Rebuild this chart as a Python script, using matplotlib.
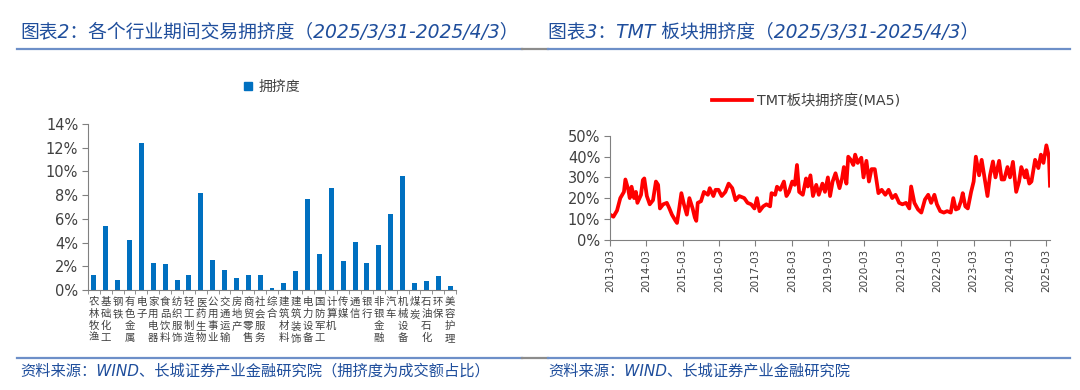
import matplotlib
matplotlib.use('Agg')
import matplotlib.pyplot as plt
from matplotlib.lines import Line2D
from matplotlib.patches import Patch

plt.rcParams['font.family'] = ['DejaVu Sans', 'Noto Sans CJK SC']
plt.rcParams['axes.unicode_minus'] = False

# ---- data: industry crowding (left) ----
industries = ['农林牧渔', '基础化工', '钢铁', '有色金属', '电子', '家用电器', '食品饮料',
              '纺织服饰', '轻工制造', '医药生物', '公用事业', '交通运输', '房地产', '商贸零售',
              '社会服务', '综合', '建筑材料', '建筑装饰', '电力设备', '国防军工', '计算机',
              '传媒', '通信', '银行', '非银金融', '汽车', '机械设备', '煤炭', '石油石化',
              '环保', '美容护理']
crowding = [1.24, 5.37, 0.84, 4.21, 12.39, 2.25, 2.16, 0.84, 1.24, 8.2, 2.53, 1.69,
            1.04, 1.24, 1.24, 0.2, 0.59, 1.63, 7.7, 3.0, 8.6, 2.47, 4.02, 2.25, 3.79,
            6.38, 9.63, 0.56, 0.76, 1.18, 0.31]
left_yticks = [0, 2, 4, 6, 8, 10, 12, 14]

# ---- data: TMT crowding MA5 (right), decimal year / percent ----
tmt_t = [2013.17, 2013.26, 2013.36, 2013.45, 2013.55, 2013.59, 2013.67, 2013.71, 2013.76,
         2013.83, 2013.88, 2013.92, 2014.02, 2014.07, 2014.11, 2014.18, 2014.26, 2014.35,
         2014.43, 2014.49, 2014.54, 2014.63, 2014.73, 2014.80, 2014.87, 2014.97, 2015.01,
         2015.06, 2015.13, 2015.20, 2015.28, 2015.35, 2015.44, 2015.50, 2015.54, 2015.58,
         2015.67, 2015.75, 2015.86, 2015.91, 2016.01, 2016.07, 2016.15, 2016.24, 2016.34,
         2016.43, 2016.53, 2016.62, 2016.72, 2016.86, 2016.95, 2017.05, 2017.14, 2017.21,
         2017.28, 2017.38, 2017.47, 2017.57, 2017.61, 2017.71, 2017.76, 2017.85, 2017.95,
         2018.02, 2018.09, 2018.18, 2018.25, 2018.31, 2018.37, 2018.47, 2018.56, 2018.61,
         2018.68, 2018.75, 2018.84, 2018.91, 2019.01, 2019.08, 2019.16, 2019.22, 2019.29,
         2019.37, 2019.48, 2019.55, 2019.60, 2019.67, 2019.72, 2019.79, 2019.86, 2019.91,
         2019.98, 2020.08, 2020.14, 2020.22, 2020.29, 2020.36, 2020.45, 2020.55, 2020.64,
         2020.74, 2020.83, 2020.93, 2021.02, 2021.12, 2021.21, 2021.31, 2021.40, 2021.45,
         2021.54, 2021.64, 2021.73, 2021.83, 2021.92, 2022.00, 2022.09, 2022.16, 2022.25,
         2022.35, 2022.44, 2022.54, 2022.61, 2022.68, 2022.75, 2022.82, 2022.87, 2022.94,
         2023.01, 2023.10, 2023.17, 2023.23, 2023.32, 2023.39, 2023.48, 2023.55, 2023.62,
         2023.70, 2023.77, 2023.87, 2023.94, 2024.01, 2024.10, 2024.17, 2024.25, 2024.34,
         2024.42, 2024.48, 2024.58, 2024.62, 2024.70, 2024.76, 2024.86, 2024.95, 2025.02,
         2025.09, 2025.17, 2025.24, 2025.27]
tmt_v = [12, 11, 14, 20, 23, 29, 24, 20, 25.5,
         20, 23, 17.7, 21.6, 28.7, 29.5, 21, 17, 19,
         28, 26.4, 15, 17, 17.7, 15, 12, 9, 8,
         13.7, 22.4, 17, 12, 20, 15, 10.6, 9, 17.7,
         18.5, 23, 21.6, 24.8, 21, 24, 24, 21, 23,
         27, 24.8, 19, 21, 20, 17.7, 17, 15, 20,
         13.7, 16, 17, 16, 22.4, 21.6, 25.5, 24, 28,
         21, 23, 28, 26.4, 36, 23, 21.6, 29.5, 25.6,
         31, 21, 26.4, 21.6, 27, 23, 30, 21, 28,
         32, 24.8, 29.5, 35, 27, 40, 38.5, 36, 41,
         37, 39.5, 30, 38, 28, 34, 34, 22.4, 24,
         21.6, 24, 20, 21.6, 17.7, 17, 17.7, 15, 25.6,
         17.7, 14.5, 13, 19.3, 21.6, 17.7, 21.6, 17, 13.7,
         13, 13.7, 13, 20, 14.5, 15, 18.5, 22.4, 16,
         15, 23, 28, 40, 31, 38.5, 28.7, 21, 31,
         37.7, 30, 38, 29, 29, 35, 30, 37.5, 23,
         28, 35, 30, 33.5, 27, 28, 38.5, 34.5, 41,
         37, 45.5, 40, 26]
date_ticks = ['2013-03', '2014-03', '2015-03', '2016-03', '2017-03', '2018-03', '2019-03',
              '2020-03', '2021-03', '2022-03', '2023-03', '2024-03', '2025-03']
right_yticks = [0, 10, 20, 30, 40, 50]

W, H = 1080, 390
TITLE_C = '#1F4E9C'
TICK_C = '#404040'
SPINE_C = '#808080'

fig = plt.figure(figsize=(W / 100, H / 100), dpi=100)


def rect(x0, y_top, x1, y_bot):
    return [x0 / W, 1 - y_bot / H, (x1 - x0) / W, (y_bot - y_top) / H]


# ---- left: bar chart ----
ax1 = fig.add_axes(rect(88, 124, 456, 290))
n = len(industries)
ax1.bar(range(n), crowding, width=0.42, color='#0070C0', label='拥挤度')
ax1.set_xlim(-0.5, n - 0.5)
ax1.set_ylim(0, 14)
ax1.set_yticks(left_yticks)
ax1.set_yticklabels([f'{v}%' for v in left_yticks], fontsize=10.5, color=TICK_C)
ax1.set_xticks(range(n))
ax1.set_xticklabels(['\n'.join(s) for s in industries], fontsize=7.5, color=TICK_C,
                    linespacing=1.25, va='top')
ax1.set_xticks([i - 0.5 for i in range(n + 1)], minor=True)
ax1.tick_params(axis='x', which='major', length=0, pad=5)
ax1.tick_params(axis='x', which='minor', length=3, color=SPINE_C, direction='out')
ax1.tick_params(axis='y', length=4, color=SPINE_C, direction='out', pad=3)
for s in ['top', 'right']:
    ax1.spines[s].set_visible(False)
for s in ['left', 'bottom']:
    ax1.spines[s].set_color(SPINE_C)
ax1.legend(handles=[Patch(color='#0070C0', label='拥挤度')], loc='center',
           bbox_to_anchor=(272 / W, 1 - 87 / H), bbox_transform=fig.transFigure,
           frameon=False, fontsize=10, handlelength=0.55, handleheight=0.55,
           handletextpad=0.5, labelcolor=TICK_C)

# ---- right: line chart ----
ax2 = fig.add_axes(rect(610, 136, 1050, 239.5))
ax2.plot(tmt_t, tmt_v, color='#FF0000', linewidth=2.7, label='TMT板块拥挤度(MA5)')
tick_pos = [int(d[:4]) + (int(d[5:]) - 1) / 12 for d in date_ticks]
ax2.set_xlim(tick_pos[0], 2025.27)
ax2.set_ylim(0, 50)
ax2.set_xticks(tick_pos)
ax2.set_xticklabels(date_ticks, rotation=90, fontsize=7.5, color=TICK_C)
ax2.set_yticks(right_yticks)
ax2.set_yticklabels([f'{v}%' for v in right_yticks], fontsize=10.5, color=TICK_C)
ax2.tick_params(axis='both', length=4, color=SPINE_C, direction='out', pad=3)
for s in ['top', 'right']:
    ax2.spines[s].set_visible(False)
for s in ['left', 'bottom']:
    ax2.spines[s].set_color(SPINE_C)
ax2.legend(loc='center', bbox_to_anchor=(806 / W, 1 - 101 / H), bbox_transform=fig.transFigure,
           frameon=False, fontsize=10.3, handlelength=2.8, handletextpad=0.3,
           labelcolor=TICK_C)

# ---- titles, rules and footers ----
fig.text(20 / W, 1 - 33 / H, '图表2：各个行业期间交易拥挤度（2025/3/31-2025/4/3）',
         fontsize=13.5, fontstyle='italic', color=TITLE_C, va='center')
fig.text(548 / W, 1 - 33 / H, '图表3：TMT 板块拥挤度（2025/3/31-2025/4/3）',
         fontsize=13.5, fontstyle='italic', color=TITLE_C, va='center')
fig.text(20 / W, 1 - 371 / H, '资料来源：WIND、长城证券产业金融研究院（拥挤度为成交额占比）',
         fontsize=11, fontstyle='italic', color=TITLE_C, va='center')
fig.text(548 / W, 1 - 371 / H, '资料来源：WIND、长城证券产业金融研究院',
         fontsize=11, fontstyle='italic', color=TITLE_C, va='center')

for y in (49, 358):
    fig.add_artist(Line2D([17 / W, 522 / W], [1 - y / H] * 2, color='#6D8FC8', lw=1.6))
    fig.add_artist(Line2D([522 / W, 548 / W], [1 - y / H] * 2, color='#8C8C8C', lw=1.6))
    fig.add_artist(Line2D([548 / W, 1070 / W], [1 - y / H] * 2, color='#6D8FC8', lw=1.6))

fig.savefig('out.png', dpi=100)
